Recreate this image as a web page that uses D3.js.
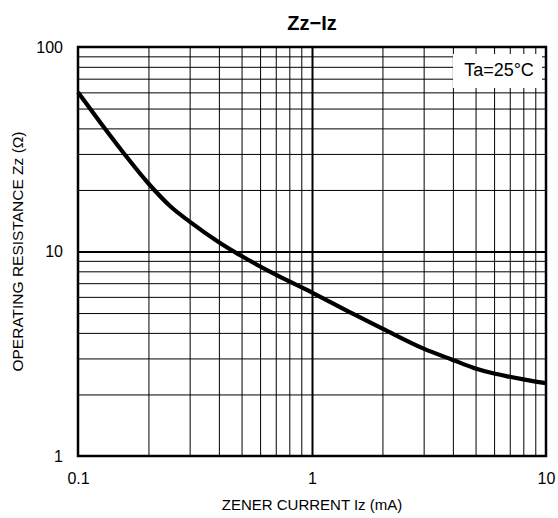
<!DOCTYPE html>
<html>
<head>
<meta charset="utf-8">
<script src="https://cdn.jsdelivr.net/npm/d3@7"></script>
<style>
  html, body { margin: 0; padding: 0; background: #fff; }
  svg { display: block; font-family: "Liberation Sans", Arial, sans-serif; }
</style>
</head>
<body>
<svg id="chart" width="558" height="518"></svg>
<script>
// ---- data ----
const current = [0.1, 0.125, 0.156, 0.2, 0.25, 0.3, 0.4, 0.5, 0.7, 1, 1.5, 2, 3, 4, 5, 6, 7, 8, 10];
const resistance = [60, 42.5, 30.5, 21.5, 16.5, 14.0, 11.1, 9.5, 7.7, 6.3, 4.95, 4.2, 3.35, 2.95, 2.68, 2.53, 2.44, 2.37, 2.27];
const xTickLabels = [0.1, 1, 10];
const yTickLabels = [1, 10, 100];
const xMinor = [0.2, 0.3, 0.4, 0.5, 0.6, 0.7, 0.8, 0.9, 2, 3, 4, 5, 6, 7, 8, 9];
const yMinor = [2, 3, 4, 5, 6, 7, 8, 9, 20, 30, 40, 50, 60, 70, 80, 90];
const title = "Zz−Iz";
const xLabel = "ZENER CURRENT Iz (mA)";
const yLabel = "OPERATING RESISTANCE Zz (Ω)";
const note = "Ta=25°C";

// ---- layout ----
const L = 78, R = 546, T = 47, B = 456;
const svg = d3.select("#chart");
const x = d3.scaleLog().domain([0.1, 10]).range([L, R]);
const y = d3.scaleLog().domain([1, 100]).range([B, T]);

// minor grid
svg.append("g").attr("transform", `translate(0,${B})`)
  .call(d3.axisBottom(x).tickValues(xMinor).tickSize(-(B - T)).tickFormat(""))
  .call(g => g.select(".domain").remove())
  .call(g => g.selectAll("line").attr("stroke", "#000").attr("stroke-width", 1));
svg.append("g").attr("transform", `translate(${L},0)`)
  .call(d3.axisLeft(y).tickValues(yMinor).tickSize(-(R - L)).tickFormat(""))
  .call(g => g.select(".domain").remove())
  .call(g => g.selectAll("line").attr("stroke", "#000").attr("stroke-width", 1));

// major grid
svg.append("g").attr("transform", `translate(0,${B})`)
  .call(d3.axisBottom(x).tickValues([1]).tickSize(-(B - T)).tickFormat(""))
  .call(g => g.select(".domain").remove())
  .call(g => g.selectAll("line").attr("stroke", "#000").attr("stroke-width", 2));
svg.append("g").attr("transform", `translate(${L},0)`)
  .call(d3.axisLeft(y).tickValues([10]).tickSize(-(R - L)).tickFormat(""))
  .call(g => g.select(".domain").remove())
  .call(g => g.selectAll("line").attr("stroke", "#000").attr("stroke-width", 2));

// note box (covers grid)
svg.append("rect").attr("x", 453).attr("y", 54).attr("width", 89).attr("height", 34).attr("fill", "#fff");
svg.append("text").attr("x", 499).attr("y", 70).attr("text-anchor", "middle")
  .attr("dominant-baseline", "central").attr("font-size", 18).attr("fill", "#000").text(note);

// curve
const line = d3.line().x(d => x(d[0])).y(d => y(d[1])).curve(d3.curveMonotoneX);
svg.append("path").datum(current.map((c, i) => [c, resistance[i]]))
  .attr("d", line).attr("fill", "none").attr("stroke", "#000").attr("stroke-width", 4.2)
  .attr("stroke-linejoin", "round");

// frame
svg.append("rect").attr("x", L).attr("y", T).attr("width", R - L).attr("height", B - T)
  .attr("fill", "none").attr("stroke", "#000").attr("stroke-width", 2.5);

// tick labels
svg.append("g").attr("transform", `translate(0,${B})`)
  .call(d3.axisBottom(x).tickValues(xTickLabels).tickSize(0).tickPadding(17).tickFormat(d => String(d)))
  .call(g => g.select(".domain").remove())
  .call(g => g.selectAll("text").attr("font-size", 16).attr("fill", "#000").attr("font-family", "Liberation Sans, Arial, sans-serif"));
svg.append("g").attr("transform", `translate(${L},0)`)
  .call(d3.axisLeft(y).tickValues(yTickLabels).tickSize(0).tickPadding(15).tickFormat(d => String(d)))
  .call(g => g.select(".domain").remove())
  .call(g => g.selectAll("text").attr("font-size", 16).attr("fill", "#000").attr("font-family", "Liberation Sans, Arial, sans-serif"));

// title and axis labels
svg.append("text").attr("x", (L + R) / 2).attr("y", 30).attr("text-anchor", "middle")
  .attr("font-size", 20).attr("font-weight", "bold").attr("fill", "#000").text(title);
svg.append("text").attr("x", (L + R) / 2).attr("y", 510).attr("text-anchor", "middle")
  .attr("font-size", 15).attr("fill", "#000").text(xLabel);
svg.append("text").attr("transform", `translate(23,${(T + B) / 2}) rotate(-90)`).attr("text-anchor", "middle")
  .attr("font-size", 15.5).attr("fill", "#000").text(yLabel);
</script>
</body>
</html>
